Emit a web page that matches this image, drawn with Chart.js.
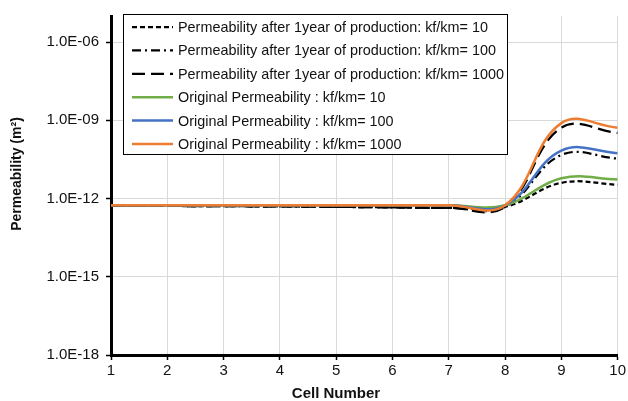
<!DOCTYPE html>
<html>
<head>
<meta charset="utf-8">
<script src="https://cdn.jsdelivr.net/npm/chart.js@4.4.1/dist/chart.umd.min.js"></script>
<style>
  html, body { margin: 0; padding: 0; background: #fff; }
  #wrap { width: 628px; height: 401px; }
</style>
</head>
<body>
<div id="wrap"><canvas id="Permeability_Canvas"></canvas></div>
<script>
// cell index along the model
const cells = [1, 2, 3, 4, 5, 6, 7, 8, 9, 10];

// permeability after 1 year of production (m2)
const after10   = [5.3e-13, 5.2e-13, 5.1e-13, 5.0e-13, 4.8e-13, 4.6e-13, 4.4e-13, 4.8e-13, 4.0e-12, 3.4e-12];
const after100  = [5.3e-13, 5.2e-13, 5.1e-13, 5.0e-13, 4.8e-13, 4.6e-13, 4.4e-13, 4.8e-13, 4.7e-11, 3.4e-11];
const after1000 = [5.3e-13, 5.2e-13, 5.1e-13, 5.0e-13, 4.8e-13, 4.6e-13, 4.4e-13, 4.8e-13, 5.2e-10, 3.3e-10];

// original permeability (m2)
const orig10   = [5.5e-13, 5.5e-13, 5.5e-13, 5.5e-13, 5.5e-13, 5.5e-13, 5.5e-13, 5.5e-13, 6.0e-12, 5.4e-12];
const orig100  = [5.5e-13, 5.5e-13, 5.5e-13, 5.5e-13, 5.5e-13, 5.5e-13, 5.5e-13, 5.5e-13, 6.9e-11, 5.5e-11];
const orig1000 = [5.5e-13, 5.5e-13, 5.5e-13, 5.5e-13, 5.5e-13, 5.5e-13, 5.5e-13, 5.5e-13, 7.8e-10, 5.2e-10];

// y axis ticks
const yTickValues = [1e-18, 1e-15, 1e-12, 1e-9, 1e-6];
const yTickLabels = ['1.0E-18', '1.0E-15', '1.0E-12', '1.0E-09', '1.0E-06'];

const FONT = '"Liberation Sans", Arial, sans-serif';

function pts(values) {
    return cells.map((c, i) => ({ x: c, y: values[i] }));
}

// legend box inside the plot + axis titles, placed like the excel chart
const boxLegend = {
    id: 'boxLegend',
    afterDraw(chart) {
        const ctx = chart.ctx;
        const left = 123, top = 14, right = 508, bottom = 155;
        ctx.save();
        ctx.setLineDash([]);
        ctx.fillStyle = '#fff';
        ctx.fillRect(left, top, right - left, bottom - top);
        ctx.strokeStyle = '#000';
        ctx.lineWidth = 1;
        ctx.strokeRect(left + 0.5, top + 0.5, right - left - 1, bottom - top - 1);
        ctx.font = '14.4px ' + FONT;
        ctx.textBaseline = 'middle';
        chart.data.datasets.forEach((ds, i) => {
            const y = 27 + i * 23.4;
            ctx.beginPath();
            ctx.setLineDash(ds.borderDash || []);
            ctx.strokeStyle = ds.borderColor;
            ctx.lineWidth = ds.borderWidth;
            ctx.moveTo(132, y);
            ctx.lineTo(173, y);
            ctx.stroke();
            ctx.setLineDash([]);
            ctx.fillStyle = '#111';
            ctx.fillText(ds.label, 178, y + 1);
        });

        // axis titles
        ctx.fillStyle = '#111';
        ctx.font = 'bold 15px ' + FONT;
        ctx.textAlign = 'center';
        ctx.fillText('Cell Number', 336, 394);
        ctx.translate(17, 174);
        ctx.rotate(-Math.PI / 2);
        ctx.font = 'bold 14px ' + FONT;
        ctx.fillText('Permeability (m²)', 0, 0);
        ctx.restore();
    }
};

const canvas = document.getElementById('Permeability_Canvas');

const chart = new Chart(canvas, {
    type: 'line',
    data: {
        datasets: [{
            label: 'Permeability after 1year of production: kf/km= 10',
            data: pts(after10),
            borderColor: '#000',
            borderWidth: 2.25,
            borderDash: [5, 3],
            order: 5
        }, {
            label: 'Permeability after 1year of production: kf/km= 100',
            data: pts(after100),
            borderColor: '#000',
            borderWidth: 2.25,
            borderDash: [9, 4, 2, 4],
            order: 4
        }, {
            label: 'Permeability after 1year of production: kf/km= 1000',
            data: pts(after1000),
            borderColor: '#000',
            borderWidth: 2.25,
            borderDash: [13, 6],
            order: 3
        }, {
            label: 'Original Permeability : kf/km= 10',
            data: pts(orig10),
            borderColor: '#70AD47',
            borderWidth: 2.5,
            order: 2
        }, {
            label: 'Original Permeability : kf/km= 100',
            data: pts(orig100),
            borderColor: '#4472C4',
            borderWidth: 2.5,
            order: 1
        }, {
            label: 'Original Permeability : kf/km= 1000',
            data: pts(orig1000),
            borderColor: '#ED7D31',
            borderWidth: 2.5,
            order: 0
        }]
    },
    options: {
        responsive: true,
        maintainAspectRatio: false,
        animation: false,
        layout: {
            padding: { left: 8, right: 9, top: 11, bottom: 0 }
        },
        elements: {
            point: { radius: 0 },
            line: { tension: 0.4, fill: false }
        },
        scales: {
            x: {
                type: 'linear',
                min: 1,
                max: 10,
                ticks: {
                    stepSize: 1,
                    padding: 2,
                    color: '#111',
                    font: { family: FONT, size: 15 }
                },
                grid: {
                    color: '#d9d9d9',
                    lineWidth: 1,
                    tickColor: '#000',
                    tickLength: 5,
                    tickWidth: 1.5
                },
                border: { color: '#000', width: 3 },
                afterFit(scale) { scale.height = 46; }
            },
            y: {
                type: 'logarithmic',
                min: 1e-18,
                max: 1e-5,
                afterBuildTicks(scale) {
                    scale.ticks = yTickValues.map(v => ({ value: v }));
                },
                ticks: {
                    padding: 7,
                    color: '#111',
                    font: { family: FONT, size: 15 },
                    callback: (value, index) => yTickLabels[index]
                },
                grid: {
                    color: '#d9d9d9',
                    lineWidth: 1,
                    tickColor: '#000',
                    tickLength: 5,
                    tickWidth: 1.5
                },
                border: { color: '#000', width: 3 },
                afterFit(scale) { scale.width = 103; }
            }
        },
        plugins: {
            legend: { display: false },
            tooltip: { enabled: false }
        }
    },
    plugins: [boxLegend]
});
</script>
</body>
</html>
